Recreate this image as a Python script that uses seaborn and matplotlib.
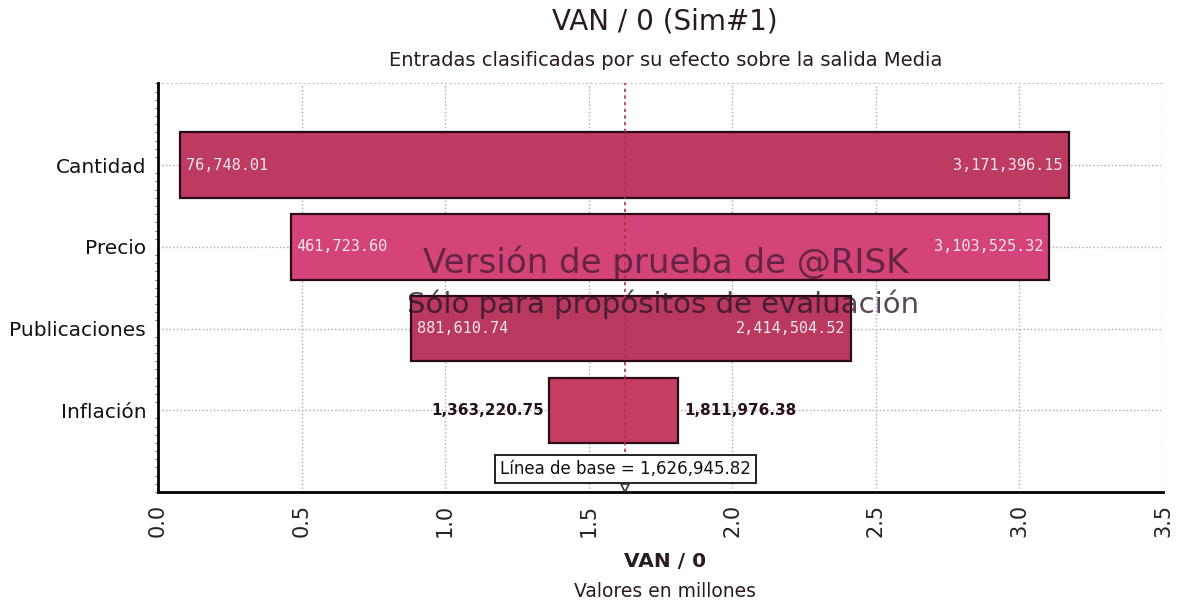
import pandas as pd
import matplotlib.pyplot as plt
import seaborn as sns
import numpy as np

# tornado data (values in millions)
categories = ['Cantidad', 'Precio', 'Publicaciones', 'Inflación']
low_vals = [0.07674801, 0.46172360, 0.88161074, 1.36322075]
high_vals = [3.17139615, 3.10352532, 2.41450452, 1.81197638]
low_labels = ['76,748.01', '461,723.60', '881,610.74', '1,363,220.75']
high_labels = ['3,171,396.15', '3,103,525.32', '2,414,504.52', '1,811,976.38']
baseline = 1.62694582
baseline_label = 'Línea de base = 1,626,945.82'
bar_colors = ['#bd3a61', '#d4437a', '#b9395f', '#c63d62']

df = pd.DataFrame({'cat': categories,
                   'low': low_vals,
                   'span': np.array(high_vals) - np.array(low_vals)})

sns.set_style('white')
plt.rcParams['font.family'] = ['DejaVu Sans']

fig, ax = plt.subplots(figsize=(11.88, 6.05), dpi=100)
fig.subplots_adjust(left=0.133, right=0.979, top=0.862, bottom=0.187)

sns.barplot(data=df, x='span', y='cat', left=df['low'].values, color=bar_colors[0],
            saturation=1, width=0.8, edgecolor='#2a0a18', linewidth=1.6,
            ax=ax, zorder=3)
for patch, c in zip(ax.patches, bar_colors):
    patch.set_facecolor(c)

ax.set_xlim(0, 3.5)
ax.set_ylim(4, -1)
ax.set_xticks(np.arange(0, 3.51, 0.5))
ax.set_xticklabels([f'{v:.1f}' for v in np.arange(0, 3.51, 0.5)],
                   rotation=90, fontsize=15, color='#222222')
ax.set_yticks(range(len(categories)))
ax.set_yticklabels(categories, fontsize=14.5, color='#111111')
ax.set_yticks(np.arange(-1, 4.01, 0.1), minor=True)
ax.tick_params(axis='both', which='major', direction='out', length=5, width=1.2,
               color='black')
ax.tick_params(axis='y', which='minor', direction='out', length=2.5, width=0.6,
               color='#555555', left=True)
ax.set_ylabel('')
ax.set_xlabel('')

# grid and frame
for x in np.arange(0.5, 3.51, 0.5):
    ax.axvline(x, color='#aaaaaa', ls=':', lw=1, zorder=1)
for y in range(len(categories)):
    ax.axhline(y, color='#aaaaaa', ls=':', lw=1, zorder=1)
ax.axhline(-1, color='#aaaaaa', ls=':', lw=1.2, zorder=1)
for s in ['top', 'right']:
    ax.spines[s].set_visible(False)
ax.spines['left'].set_linewidth(2)
ax.spines['bottom'].set_linewidth(2)
ax.spines['left'].set_color('black')
ax.spines['bottom'].set_color('black')

# baseline
ax.axvline(baseline, color='#b03050', ls=(0, (2, 2)), lw=1.2, zorder=4)

# value labels
for i in range(len(categories)):
    if i < 3:
        ax.text(low_vals[i] + 0.02, i, low_labels[i], va='center', ha='left',
                color='#f5e6ee', fontsize=11, family='DejaVu Sans Mono', zorder=5)
        ax.text(high_vals[i] - 0.02, i, high_labels[i], va='center', ha='right',
                color='#f5e6ee', fontsize=11, family='DejaVu Sans Mono', zorder=5)
    else:
        ax.text(low_vals[i] - 0.02, i, low_labels[i], va='center', ha='right',
                color='#2a1020', fontsize=11, fontweight='bold', zorder=5)
        ax.text(high_vals[i] + 0.02, i, high_labels[i], va='center', ha='left',
                color='#2a1020', fontsize=11, fontweight='bold', zorder=5)

ax.text(baseline, 3.72, baseline_label, ha='center', va='center', fontsize=12,
        color='#111111', zorder=6,
        bbox=dict(boxstyle='square,pad=0.3', fc='white', ec='#222222', lw=1.4))
ax.plot([baseline], [3.95], marker='v', ms=6, mfc='white', mec='#333333',
        mew=1.2, zorder=7, clip_on=False)

# watermark
fig.text(0.56, 0.565, 'Versión de prueba de @RISK', ha='center', va='center',
         fontsize=24.5, color='#3a1830', alpha=0.72, zorder=7)
fig.text(0.558, 0.497, 'Sólo para propósitos de evaluación', ha='center', va='center',
         fontsize=21, color='#2a1428', alpha=0.78, zorder=7)

fig.text(0.56, 0.965, 'VAN / 0 (Sim#1)', ha='center', va='center', fontsize=20,
         color='#2a1a22')
fig.text(0.56, 0.9, 'Entradas clasificadas por su efecto sobre la salida Media',
         ha='center', va='center', fontsize=14, color='#2a1a22')
fig.text(0.56, 0.072, 'VAN / 0', ha='center', va='center', fontsize=14.5,
         fontweight='bold', color='#2a1a22')
fig.text(0.56, 0.022, 'Valores en millones', ha='center', va='center',
         fontsize=13.5, color='#2a1a22')

plt.savefig('out.png', dpi=100)
